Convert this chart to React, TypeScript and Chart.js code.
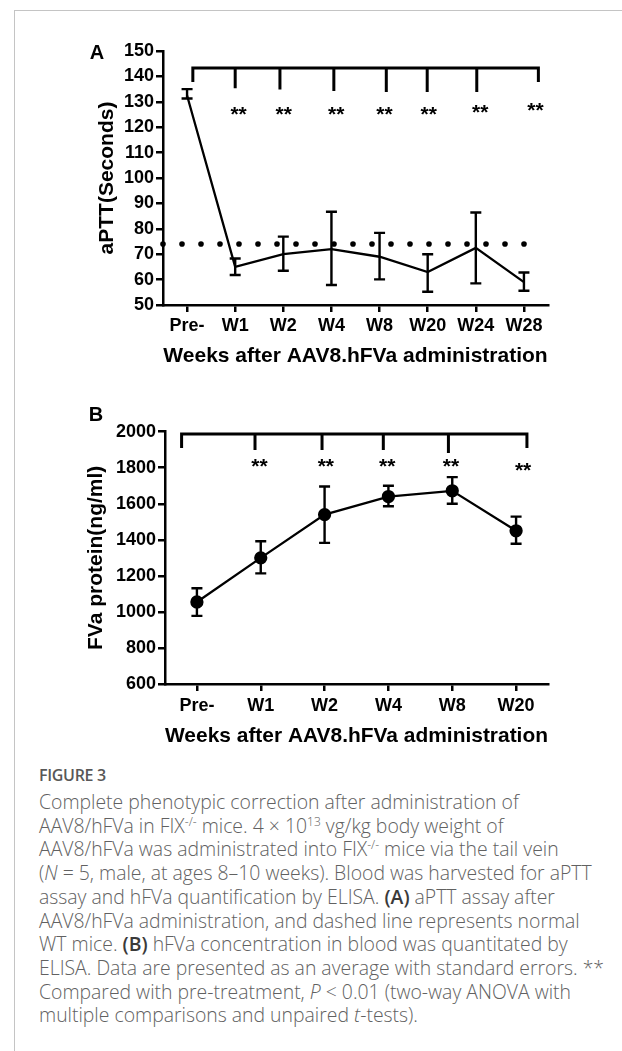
import React, { useEffect, useRef } from "react";
import { Chart, registerables } from "chart.js";

Chart.register(...registerables);

// ---------- Panel A data ----------
const weeksA = ["Pre-", "W1", "W2", "W4", "W8", "W20", "W24", "W28"];
const apttMean = [132.5, 65, 70, 72, 69, 63, 72.5, 59];
const apttUpper = [135, 68.3, 76.9, 86.7, 78.4, 70, 86.4, 62.8];
const apttLower = [131.3, 61.8, 63.5, 57.9, 60.1, 55.2, 58.5, 55.6];
const wtNormalAptt = 74;
const starsA = ["**", "**", "**", "**", "**", "**", "**"];

// ---------- Panel B data ----------
const weeksB = ["Pre-", "W1", "W2", "W4", "W8", "W20"];
const fvaMean = [1055, 1300, 1540, 1640, 1672, 1450];
const fvaUpper = [1131, 1392, 1696, 1700, 1748, 1529];
const fvaLower = [978, 1214, 1383, 1586, 1600, 1378];
const starsB = ["**", "**", "**", "**", "**"];

// ---------- annotation layout (category-index / value units) ----------
const bracketA = {
  top: 143.3,
  xs: [0.12, 1.0, 1.93, 3.05, 4.14, 4.99, 6.02, 7.3],
  drops: [137.8, 135.3, 134.8, 134.3, 133.9, 133.9, 133.9, 137.8],
  starXs: [1.07, 2.01, 3.1, 4.1, 5.02, 6.09, 7.24],
  starYs: [127, 127, 127, 127, 127, 128, 128.7],
};
const bracketB = {
  top: 1987,
  xs: [-0.24, 0.91, 1.96, 2.92, 3.94, 5.17],
  drops: [1910, 1899, 1899, 1899, 1882, 1910],
  starXs: [0.98, 2.02, 2.98, 3.98, 5.11],
  starYs: [1840, 1840, 1840, 1840, 1816],
};

const FONT = "'Liberation Sans', Arial, Helvetica, sans-serif";

type PanelCfg = {
  letter: string;
  letterX: number;
  letterY: number;
  upper: number[];
  lower: number[];
  bracket: typeof bracketA;
  stars: string[];
  refLine?: number;
};

const annotPlugin = {
  id: "panelAnnot",
  beforeDatasetsDraw(chart: any, _a: any, opts: PanelCfg) {
    const { ctx, chartArea } = chart;
    const xs = chart.scales.x;
    const ys = chart.scales.y;
    if (opts.refLine !== undefined) {
      const y = ys.getPixelForValue(opts.refLine);
      const xEnd = xs.getPixelForValue(xs.getLabels().length - 1) + 4;
      ctx.save();
      ctx.fillStyle = "#000";
      for (let x = chartArea.left; x <= xEnd; x += 19) {
        ctx.beginPath();
        ctx.arc(x, y, 2.8, 0, Math.PI * 2);
        ctx.fill();
      }
      ctx.restore();
    }
  },
  afterDatasetsDraw(chart: any, _a: any, opts: PanelCfg) {
    const { ctx } = chart;
    const xs = chart.scales.x;
    const ys = chart.scales.y;
    ctx.save();
    ctx.strokeStyle = "#000";
    ctx.fillStyle = "#000";
    // error bars
    ctx.lineWidth = 2.4;
    const cap = 5.5;
    opts.upper.forEach((u, i) => {
      const x = xs.getPixelForValue(i);
      const yt = ys.getPixelForValue(u);
      const yb = ys.getPixelForValue(opts.lower[i]);
      ctx.beginPath();
      ctx.moveTo(x, yt);
      ctx.lineTo(x, yb);
      ctx.moveTo(x - cap, yt);
      ctx.lineTo(x + cap, yt);
      ctx.moveTo(x - cap, yb);
      ctx.lineTo(x + cap, yb);
      ctx.stroke();
    });
    // significance bracket
    const b = opts.bracket;
    const yTop = ys.getPixelForValue(b.top);
    const n = b.xs.length;
    ctx.lineWidth = 3;
    ctx.lineJoin = "miter";
    ctx.beginPath();
    ctx.moveTo(xs.getPixelForValue(b.xs[0]), ys.getPixelForValue(b.drops[0]));
    ctx.lineTo(xs.getPixelForValue(b.xs[0]), yTop);
    ctx.lineTo(xs.getPixelForValue(b.xs[n - 1]), yTop);
    ctx.lineTo(xs.getPixelForValue(b.xs[n - 1]), ys.getPixelForValue(b.drops[n - 1]));
    for (let i = 1; i < n - 1; i++) {
      const x = xs.getPixelForValue(b.xs[i]);
      ctx.moveTo(x, yTop);
      ctx.lineTo(x, ys.getPixelForValue(b.drops[i]));
    }
    ctx.stroke();
    // stars
    ctx.font = `bold 21px ${FONT}`;
    ctx.textAlign = "center";
    ctx.textBaseline = "alphabetic";
    opts.stars.forEach((s, i) => {
      const x = xs.getPixelForValue(b.starXs[i]);
      const y = ys.getPixelForValue(b.starYs[i]) + 12;
      ctx.fillText(s, x, y);
    });
    // panel letter
    ctx.font = `bold 20px ${FONT}`;
    ctx.textBaseline = "middle";
    ctx.fillText(opts.letter, opts.letterX, opts.letterY);
    ctx.restore();
  },
};

function makeConfig(
  labels: string[],
  values: number[],
  yMin: number,
  yMax: number,
  yStep: number,
  yTitle: string,
  pointRadius: number,
  geo: { padLeft: number; areaLeft: number; areaRight: number; areaTop: number; areaBottom: number; xHeight: number; canvasH: number; canvasW: number; tickPad: number },
  annot: PanelCfg
): any {
  const axisFontTicks = { family: FONT, size: 18, weight: "bold" as const };
  const axisFontTitle = { family: FONT, size: 21, weight: "bold" as const };
  return {
    type: "line",
    data: {
      labels,
      datasets: [
        {
          data: values,
          borderColor: "#000",
          backgroundColor: "#000",
          borderWidth: 2.3,
          pointRadius,
          pointHoverRadius: pointRadius,
          pointBackgroundColor: "#000",
          pointBorderColor: "#000",
          tension: 0,
          fill: false,
        },
      ],
    },
    options: {
      responsive: false,
      animation: false,
      events: [],
      layout: {
        padding: {
          left: geo.padLeft,
          right: geo.canvasW - geo.areaRight,
          top: geo.areaTop,
          bottom: geo.canvasH - geo.areaBottom - geo.xHeight,
        },
      },
      plugins: {
        legend: { display: false },
        tooltip: { enabled: false },
        panelAnnot: annot,
      },
      scales: {
        x: {
          type: "category",
          offset: true,
          border: { display: true, color: "#000", width: 2.5 },
          grid: { display: true, drawOnChartArea: false, drawTicks: true, tickLength: 7, color: "#000", lineWidth: 2.5, offset: false },
          ticks: { color: "#000", font: axisFontTicks, padding: geo.tickPad, maxRotation: 0, minRotation: 0, autoSkip: false },
          title: { display: true, text: "Weeks after AAV8.hFVa administration", color: "#000", font: axisFontTitle, padding: { top: 0, bottom: 0 } },
          afterFit: (s: any) => {
            s.height = geo.xHeight;
          },
        },
        y: {
          type: "linear",
          min: yMin,
          max: yMax,
          border: { display: true, color: "#000", width: 2.5 },
          grid: { display: true, drawOnChartArea: false, drawTicks: true, tickLength: 7, color: "#000", lineWidth: 2.5 },
          ticks: {
            color: "#000",
            font: axisFontTicks,
            stepSize: yStep,
            padding: 2,
            callback: (v: any) => String(v),
          },
          title: { display: true, text: yTitle, color: "#000", font: axisFontTitle, padding: { top: 0, bottom: 0 } },
          afterFit: (s: any) => {
            s.width = geo.areaLeft - geo.padLeft;
          },
        },
      },
    },
    plugins: [annotPlugin],
  };
}

function ChartCanvas({ config, width, height, top }: { config: any; width: number; height: number; top: number }) {
  const ref = useRef<HTMLCanvasElement | null>(null);
  useEffect(() => {
    if (!ref.current) return;
    const chart = new Chart(ref.current, config);
    return () => chart.destroy();
  }, [config]);
  return (
    <canvas
      ref={ref}
      width={width}
      height={height}
      style={{ position: "absolute", left: 0, top, width, height, display: "block" }}
    />
  );
}

const configA = makeConfig(
  weeksA,
  apttMean,
  50,
  150,
  10,
  "aPTT(Seconds)",
  0,
  { padLeft: 94.4, areaLeft: 163, areaRight: 548, areaTop: 51, areaBottom: 305, xHeight: 63.6, canvasH: 380, canvasW: 622, tickPad: 3.5 },
  {
    letter: "A",
    letterX: 97,
    letterY: 53,
    upper: apttUpper,
    lower: apttLower,
    bracket: bracketA,
    stars: starsA,
    refLine: wtNormalAptt,
  }
);

const configB = makeConfig(
  weeksB,
  fvaMean,
  600,
  2000,
  200,
  "FVa protein(ng/ml)",
  5.5,
  { padLeft: 84.1, areaLeft: 165, areaRight: 548, areaTop: 51.7, areaBottom: 304, xHeight: 64.6, canvasH: 380, canvasW: 622, tickPad: 4.5 },
  {
    letter: "B",
    letterX: 96,
    letterY: 35,
    upper: fvaUpper,
    lower: fvaLower,
    bracket: bracketB,
    stars: starsB,
  }
);

const supStyle: React.CSSProperties = { fontSize: "0.62em", lineHeight: 0, verticalAlign: "0.55em" };
const boldRef: React.CSSProperties = { fontWeight: 600, color: "#3a3a3a" };

export default function App() {
  useEffect(() => {
    document.body.style.margin = "0";
  }, []);
  return (
    <div style={{ position: "absolute", left: 0, top: 0, width: 622, height: 1051, background: "#fff", overflow: "hidden" }}>
      <div
        style={{
          position: "absolute",
          left: 14,
          top: 10,
          width: 640,
          height: 1100,
          borderTop: "1.5px solid #c4c4c4",
          borderLeft: "1.5px solid #c4c4c4",
        }}
      />
      <ChartCanvas config={configA} width={622} height={380} top={0} />
      <ChartCanvas config={configB} width={622} height={380} top={380} />
      <div
        style={{
          position: "absolute",
          left: 39,
          top: 764,
          fontFamily: "'Open Sans', 'Noto Sans', sans-serif",
          fontWeight: 600,
          fontSize: 16,
          lineHeight: "22px",
          color: "#585858",
          letterSpacing: "-0.3px",
        }}
      >
        FIGURE 3
      </div>
      <div
        style={{
          position: "absolute",
          left: 39,
          top: 790,
          fontFamily: "'Open Sans', 'Noto Sans', sans-serif",
          fontWeight: 300,
          fontSize: 19.4,
          lineHeight: "23.7px",
          color: "#616161",
          whiteSpace: "nowrap",
        }}
      >
        Complete phenotypic correction after administration of
        <br />
        AAV8/hFVa in FIX<span style={supStyle}>-/-</span> mice. 4 × 10<span style={supStyle}>13</span> vg/kg body weight of
        <br />
        AAV8/hFVa was administrated into FIX<span style={supStyle}>-/-</span> mice via the tail vein
        <br />
        (<i>N</i> = 5, male, at ages 8–10 weeks). Blood was harvested for aPTT
        <br />
        assay and hFVa quantification by ELISA. <b style={boldRef}>(A)</b> aPTT assay after
        <br />
        AAV8/hFVa administration, and dashed line represents normal
        <br />
        WT mice. <b style={boldRef}>(B)</b> hFVa concentration in blood was quantitated by
        <br />
        ELISA. Data are presented as an average with standard errors. **
        <br />
        Compared with pre-treatment, <i>P</i> &lt; 0.01 (two-way ANOVA with
        <br />
        multiple comparisons and unpaired <i>t</i>-tests).
      </div>
    </div>
  );
}
